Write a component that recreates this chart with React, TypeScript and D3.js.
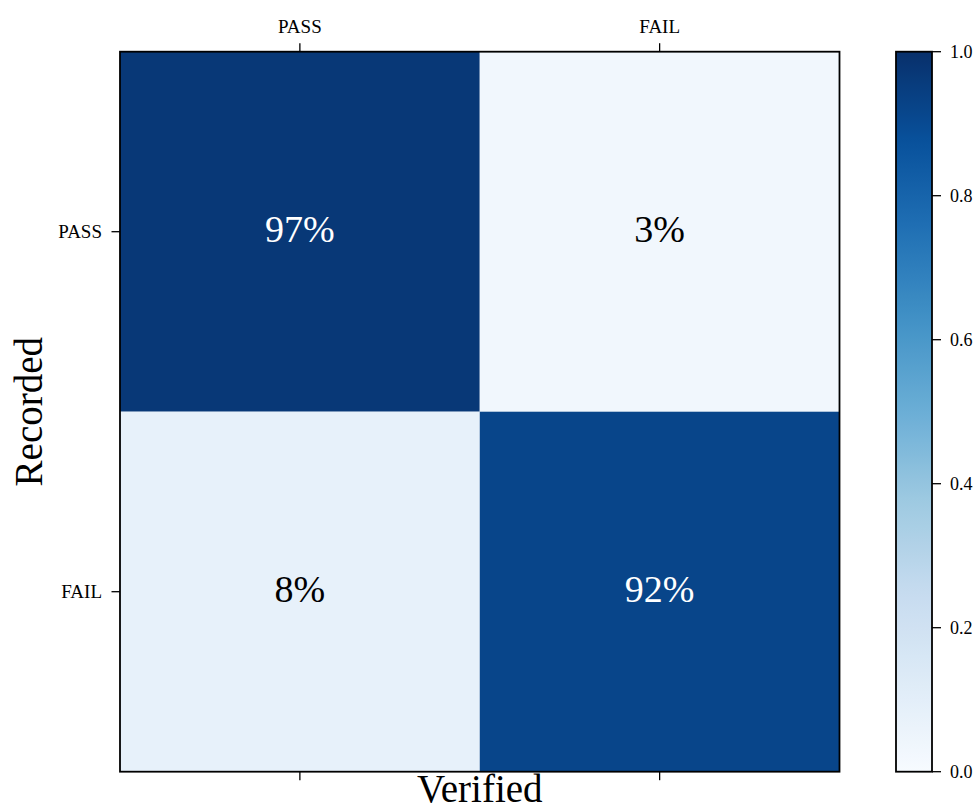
import React from "react";
import * as d3 from "d3";

// Confusion matrix: rows are recorded outcome, columns are verified outcome
const verifiedLabels = ["PASS", "FAIL"];
const recordedLabels = ["PASS", "FAIL"];
const matrixValues = [
  [0.97, 0.03],
  [0.08, 0.92],
];
const colorbarTicks = [0.0, 0.2, 0.4, 0.6, 0.8, 1.0];

// Blues colormap: linear segments through the ColorBrewer anchors
const bluesAnchors = [
  "#f7fbff", "#deebf7", "#c6dbef", "#9ecae1", "#6baed6",
  "#4292c6", "#2171b5", "#08519c", "#08306b",
];

const W = 976;
const H = 810;
const FONT = "'Liberation Serif', 'Times New Roman', serif";

export default function App() {
  const left = 120, right = 839.5, top = 51.7, bottom = 771.7;
  const cbLeft = 896, cbRight = 932;

  const blues = d3
    .scaleLinear<string>()
    .domain(bluesAnchors.map((_, i) => i / (bluesAnchors.length - 1)))
    .range(bluesAnchors)
    .interpolate(d3.interpolateRgb)
    .clamp(true);

  const x = d3.scaleBand<string>().domain(verifiedLabels).range([left, right]);
  const y = d3.scaleBand<string>().domain(recordedLabels).range([top, bottom]);
  const cb = d3.scaleLinear().domain([0, 1]).range([bottom, top]);

  const gradStops = d3.range(0, 1.0001, 0.02);

  return (
    <svg
      width={W}
      height={H}
      style={{ position: "absolute", left: 0, top: 0, background: "#fff" }}
      fontFamily={FONT}
    >
      <defs>
        <linearGradient id="bluesGrad" x1="0" y1="1" x2="0" y2="0">
          {gradStops.map((t) => (
            <stop key={t} offset={t} stopColor={blues(t)} />
          ))}
        </linearGradient>
      </defs>

      {/* cells */}
      {recordedLabels.map((r, i) =>
        verifiedLabels.map((c, j) => {
          const v = matrixValues[i][j];
          return (
            <g key={`${r}-${c}`}>
              <rect
                x={x(c)!}
                y={y(r)!}
                width={x.bandwidth()}
                height={y.bandwidth()}
                fill={blues(v)}
              />
              <text
                x={x(c)! + x.bandwidth() / 2}
                y={y(r)! + y.bandwidth() / 2 - 3}
                textAnchor="middle"
                dominantBaseline="central"
                fontSize={38}
                fill={v > 0.5 ? "#ffffff" : "#000000"}
              >
                {`${Math.round(v * 100)}%`}
              </text>
            </g>
          );
        })
      )}

      <rect
        x={left}
        y={top}
        width={right - left}
        height={bottom - top}
        fill="none"
        stroke="#000"
        strokeWidth={1.8}
      />

      {/* top and bottom ticks */}
      {verifiedLabels.map((c) => {
        const cx = x(c)! + x.bandwidth() / 2;
        return (
          <g key={`xt-${c}`}>
            <line x1={cx} x2={cx} y1={top} y2={top - 8.5} stroke="#000" strokeWidth={1.3} />
            <line x1={cx} x2={cx} y1={bottom} y2={bottom + 8.5} stroke="#000" strokeWidth={1.3} />
            <text x={cx} y={32.5} textAnchor="middle" fontSize={19} fill="#000">
              {c}
            </text>
          </g>
        );
      })}

      {/* left ticks */}
      {recordedLabels.map((r) => {
        const cy = y(r)! + y.bandwidth() / 2;
        return (
          <g key={`yt-${r}`}>
            <line x1={left} x2={left - 8.5} y1={cy} y2={cy} stroke="#000" strokeWidth={1.3} />
            <text
              x={left - 18}
              y={cy}
              textAnchor="end"
              dominantBaseline="central"
              fontSize={19}
              fill="#000"
            >
              {r}
            </text>
          </g>
        );
      })}

      <text x={(left + right) / 2} y={802} textAnchor="middle" fontSize={39} fill="#000">
        Verified
      </text>
      <text
        transform={`translate(42, ${(top + bottom) / 2}) rotate(-90)`}
        textAnchor="middle"
        fontSize={39}
        fill="#000"
      >
        Recorded
      </text>

      {/* colorbar */}
      <rect
        x={cbLeft}
        y={top}
        width={cbRight - cbLeft}
        height={bottom - top}
        fill="url(#bluesGrad)"
        stroke="#000"
        strokeWidth={1.8}
      />
      {colorbarTicks.map((t) => (
        <g key={`cb-${t}`}>
          <line x1={cbRight} x2={cbRight + 9} y1={cb(t)} y2={cb(t)} stroke="#000" strokeWidth={1.3} />
          <text
            x={cbRight + 18}
            y={cb(t)}
            dominantBaseline="central"
            fontSize={18}
            fill="#000"
          >
            {t.toFixed(1)}
          </text>
        </g>
      ))}
    </svg>
  );
}
